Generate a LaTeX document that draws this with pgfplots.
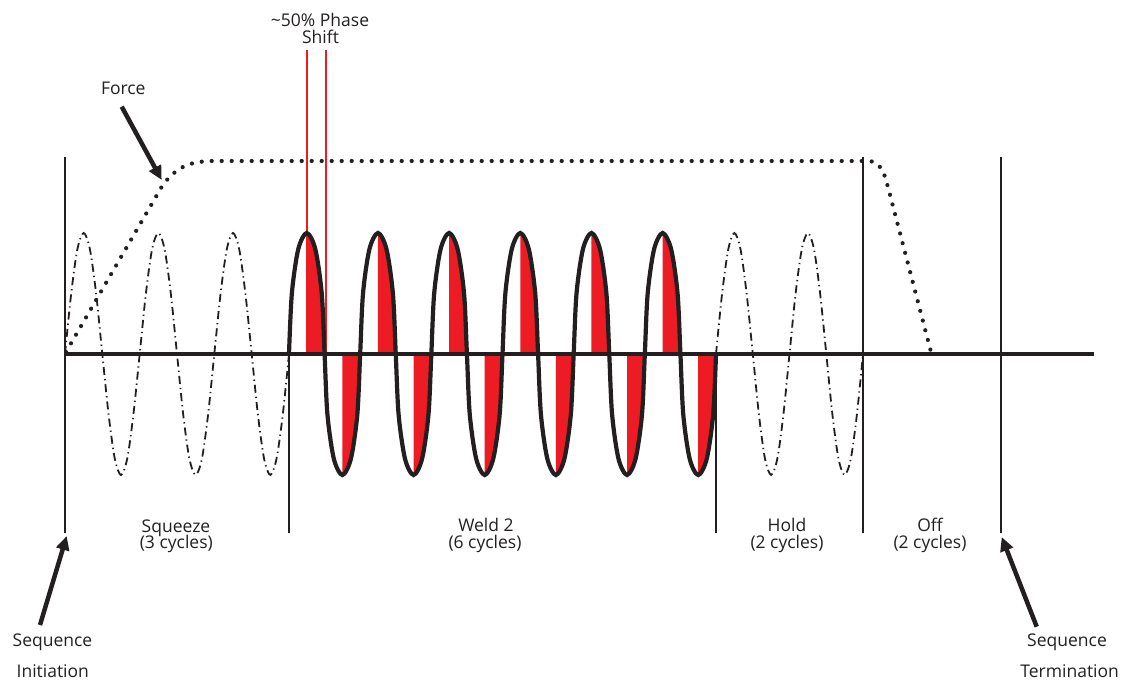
\documentclass[border=0pt]{standalone}
\usepackage{fontspec}
\setmainfont{Open Sans}
\usepackage{pgfplots}
\usepackage{pgfplotstable}
\pgfplotsset{compat=1.18}
\usepgfplotslibrary{fillbetween}
\usetikzlibrary{arrows.meta}
\definecolor{ink}{HTML}{231F20}
\definecolor{wred}{HTML}{ED1C24}

\pgfplotstableread{
x y
289.00 354
291.85 293.5
298.25 249.2
306.79 233
315.33 249.2
321.73 293.5
324.58 354
327.43 414.5
333.83 458.8
342.37 475
350.91 458.8
357.31 414.5
360.17 354
363.02 293.5
369.42 249.2
377.96 233
386.50 249.2
392.90 293.5
395.75 354
398.60 414.5
405.00 458.8
413.54 475
422.08 458.8
428.48 414.5
431.33 354
434.18 293.5
440.58 249.2
449.12 233
457.66 249.2
464.06 293.5
466.92 354
469.77 414.5
476.17 458.8
484.71 475
493.25 458.8
499.65 414.5
502.50 354
505.35 293.5
511.75 249.2
520.29 233
528.83 249.2
535.23 293.5
538.08 354
540.93 414.5
547.33 458.8
555.87 475
564.41 458.8
570.81 414.5
573.67 354
576.52 293.5
582.92 249.2
591.46 233
600.00 249.2
606.40 293.5
609.25 354
612.10 414.5
618.50 458.8
627.04 475
635.58 458.8
641.98 414.5
644.83 354
647.68 293.5
654.08 249.2
662.62 233
671.16 249.2
677.56 293.5
680.42 354
683.27 414.5
689.67 458.8
698.21 475
706.75 458.8
713.15 414.5
716.00 354
}\weldtab

\pgfplotstableread{
x y
65.0 354
71.2 293.5
77.4 249.2
83.7 233
89.9 249.2
96.1 293.5
102.3 354
108.6 414.5
114.8 458.8
121.0 475
127.2 458.8
133.4 414.5
139.7 354
145.9 293.5
152.1 249.2
158.3 233
164.6 249.2
170.8 293.5
177.0 354
183.2 414.5
189.4 458.8
195.7 475
201.9 458.8
208.1 414.5
214.3 354
220.6 293.5
226.8 249.2
233.0 233
239.2 249.2
245.4 293.5
251.7 354
257.9 414.5
264.1 458.8
270.3 475
276.5 458.8
282.8 414.5
289.0 354
}\squeezetab

\pgfplotstableread{
x y
716.0 354
722.1 293.5
728.3 249.2
734.4 233
740.5 249.2
746.6 293.5
752.8 354
758.9 414.5
765.0 458.8
771.1 475
777.3 458.8
783.4 414.5
789.5 354
795.6 293.5
801.8 249.2
807.9 233
814.0 249.2
820.1 293.5
826.3 354
832.4 414.5
838.5 458.8
844.6 475
850.8 458.8
856.9 414.5
863.0 354
}\holdtab

\pgfplotstableread{
x y
66 352
161 188
165 182
172 174.5
180 168.5
188 164.5
198 162
210 161
866 161
872 161.5
878 164.5
883 171
886 180
889 191
931 352
}\forcetab

\tikzset{lbl/.style={font=\fontsize{17.5}{21}\selectfont, text=ink, anchor=base, inner sep=0pt}}

\begin{document}
\begin{tikzpicture}
\begin{axis}[
  x=1pt, y=1pt,
  xmin=0, xmax=1123, ymin=0, ymax=682,
  y dir=reverse,
  hide axis, clip=false,
]
\addplot[draw=none] coordinates {(0,0) (1123,682)};

% named paths for the red fills
\addplot[draw=none, smooth, name path=weldpath] table {\weldtab};
\addplot[draw=none, name path=basepath] coordinates {(289,354) (716,354)};

\addplot[fill=wred, draw=none] fill between[of=weldpath and basepath, soft clip={domain=306.79:324.58}];
\addplot[fill=wred, draw=none] fill between[of=weldpath and basepath, soft clip={domain=342.37:360.17}];
\addplot[fill=wred, draw=none] fill between[of=weldpath and basepath, soft clip={domain=377.96:395.75}];
\addplot[fill=wred, draw=none] fill between[of=weldpath and basepath, soft clip={domain=413.54:431.33}];
\addplot[fill=wred, draw=none] fill between[of=weldpath and basepath, soft clip={domain=449.12:466.92}];
\addplot[fill=wred, draw=none] fill between[of=weldpath and basepath, soft clip={domain=484.71:502.50}];
\addplot[fill=wred, draw=none] fill between[of=weldpath and basepath, soft clip={domain=520.29:538.08}];
\addplot[fill=wred, draw=none] fill between[of=weldpath and basepath, soft clip={domain=555.87:573.67}];
\addplot[fill=wred, draw=none] fill between[of=weldpath and basepath, soft clip={domain=591.46:609.25}];
\addplot[fill=wred, draw=none] fill between[of=weldpath and basepath, soft clip={domain=627.04:644.83}];
\addplot[fill=wred, draw=none] fill between[of=weldpath and basepath, soft clip={domain=662.62:680.42}];
\addplot[fill=wred, draw=none] fill between[of=weldpath and basepath, soft clip={domain=698.21:716.00}];

% phase shift markers
\addplot[wred, line width=2.2pt] coordinates {(306.7,50) (306.7,354)};
\addplot[wred, line width=2.2pt] coordinates {(325.7,50) (325.7,354)};

% squeeze and hold (dash-dot)
\addplot[ink, line width=1.8pt, smooth, dash pattern=on 8pt off 4pt on 1.3pt off 4pt] table {\squeezetab};
\addplot[ink, line width=1.8pt, smooth, dash pattern=on 8pt off 4pt on 1.3pt off 4pt] table {\holdtab};

% force
\addplot[ink, line width=4.2pt, line cap=round, dash pattern=on 0pt off 10pt] table {\forcetab};

% vertical section lines
\addplot[ink, line width=2pt] coordinates {(65,157) (65,533)};
\addplot[ink, line width=2pt] coordinates {(289,354) (289,533)};
\addplot[ink, line width=2pt] coordinates {(716,354) (716,533)};
\addplot[ink, line width=2pt] coordinates {(863,157) (863,533)};
\addplot[ink, line width=2pt] coordinates {(1001,157) (1001,533)};

% weld current
\addplot[ink, line width=4.2pt, smooth] table {\weldtab};

% baseline
\addplot[ink, line width=4.7pt] coordinates {(65,354) (1094,354)};

% arrows
\addplot[ink, line width=4.5pt, -{Triangle[length=14pt,width=13pt]}] coordinates {(121.7,106.7) (161.7,180)};
\addplot[ink, line width=4.5pt, -{Triangle[length=14pt,width=13pt]}] coordinates {(40,625) (66.7,536)};
\addplot[ink, line width=4.5pt, -{Triangle[length=14pt,width=13pt]}] coordinates {(1036.7,626.7) (1001.7,537)};

% labels
\node[lbl] at (axis cs:320,26.7) {\textasciitilde 50\% Phase};
\node[lbl] at (axis cs:320.5,44) {Shift};
\node[lbl] at (axis cs:123.3,95) {Force};
\node[lbl] at (axis cs:176,532.5) {Squeeze};
\node[lbl] at (axis cs:176.3,549) {(3 cycles)};
\node[lbl] at (axis cs:486,532) {Weld 2};
\node[lbl] at (axis cs:485,549) {(6 cycles)};
\node[lbl] at (axis cs:787,532) {Hold};
\node[lbl] at (axis cs:787,549) {(2 cycles)};
\node[lbl] at (axis cs:930,532) {Off};
\node[lbl] at (axis cs:930,549) {(2 cycles)};
\node[lbl] at (axis cs:52.5,646.7) {Sequence};
\node[lbl] at (axis cs:52.8,677.7) {Initiation};
\node[lbl] at (axis cs:1067,646.7) {Sequence};
\node[lbl] at (axis cs:1069.7,677.5) {Termination};
\end{axis}
\end{tikzpicture}
\end{document}
